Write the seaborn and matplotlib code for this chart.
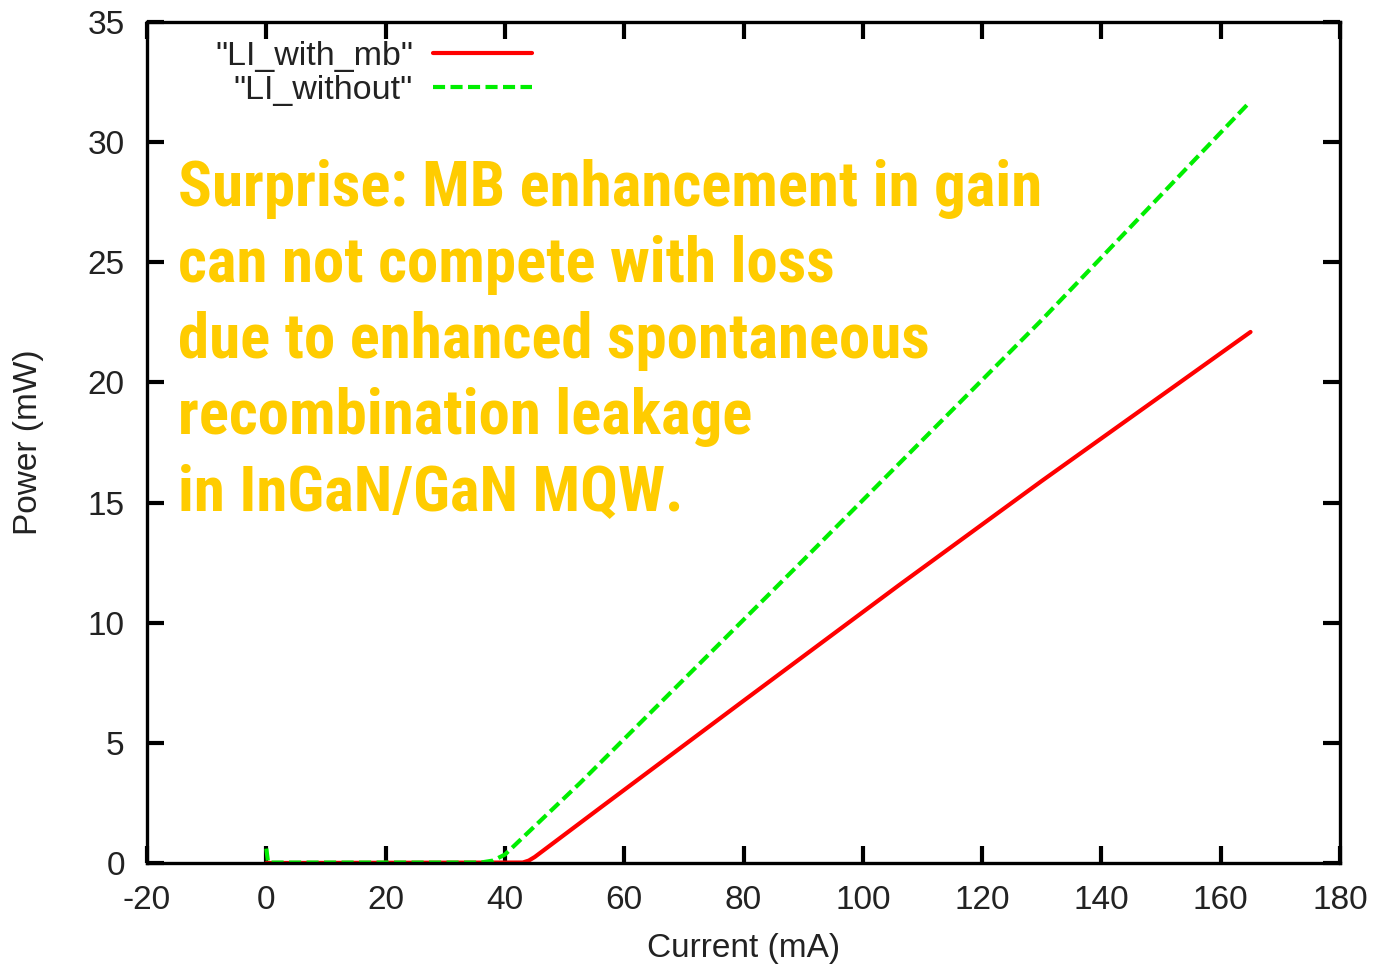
import matplotlib
matplotlib.use("Agg")
import matplotlib.pyplot as plt
import seaborn as sns
import pandas as pd

# Data
current_mb = [0, 43, 44, 45, 56, 80, 106, 130, 165]
power_mb = [0.0, 0.02, 0.1, 0.25, 2.3, 6.75, 11.55, 15.9, 22.1]
current_wo = [0, 0.3, 36, 38, 40, 52.6, 90, 130, 165]
power_wo = [0.6, 0.02, 0.02, 0.1, 0.35, 3.33, 12.6, 22.6, 31.7]
labels = ['"LI_with_mb"', '"LI_without"']
xticks = list(range(-20, 181, 20))
yticks = list(range(0, 36, 5))
note = ("Surprise: MB enhancement in gain\n"
        "can not compete with loss\n"
        "due to enhanced spontaneous\n"
        "recombination leakage\n"
        "in InGaN/GaN MQW.")

sns.set_style("ticks")
plt.rcParams['font.family'] = ['Liberation Sans', 'DejaVu Sans']
plt.rcParams['axes.unicode_minus'] = False

fig = plt.figure(figsize=(13.77, 9.65), dpi=100)
ax = fig.add_axes([147/1377, 1-863/965, (1340-147)/1377, (863-22)/965])

df_mb = pd.DataFrame({"x": current_mb, "y": power_mb})
df_wo = pd.DataFrame({"x": current_wo, "y": power_wo})
sns.lineplot(data=df_mb, x="x", y="y", ax=ax, color="#ff0000", lw=3.0,
             estimator=None, sort=False, label=labels[0])
sns.lineplot(data=df_wo, x="x", y="y", ax=ax, color="#00ee00", lw=3.0,
             estimator=None, sort=False, label=labels[1], linestyle=(0, (2.9, 1.3)))

ax.set_xlim(-20, 180)
ax.set_ylim(0, 35)
ax.set_xticks(xticks)
ax.set_yticks(yticks)
tc = "#222222"
ax.tick_params(direction="in", length=12, width=3, top=True, right=True,
               labelsize=24, colors="black", labelcolor=tc, pad=16)
for s in ax.spines.values():
    s.set_linewidth(2.4)
    s.set_color("black")
    s.set_visible(True)
ax.set_xlabel("Current (mA)", fontsize=24, color=tc, labelpad=12)
ax.set_ylabel("Power (mW)", fontsize=24, color=tc, labelpad=31)

leg = ax.legend(loc="upper right", bbox_to_anchor=(532/1377, 1-41/965),
                bbox_transform=fig.transFigure, frameon=False,
                markerfirst=False, fontsize=24.5, handlelength=2.9,
                handletextpad=0.6, labelspacing=0.08, borderaxespad=0.0,
                borderpad=0.0)
for t in leg.get_texts():
    t.set_color(tc)

ax.text(178/1377, 1-159/965, note, transform=fig.transFigure,
        family=['Roboto Condensed', 'Archivo Narrow', 'Liberation Sans Narrow',
                'Liberation Sans', 'DejaVu Sans'],
        fontweight="bold", fontsize=45.3, color="#ffcc00", ha="left", va="top",
        linespacing=1.34)

fig.savefig("out.png", dpi=100)
